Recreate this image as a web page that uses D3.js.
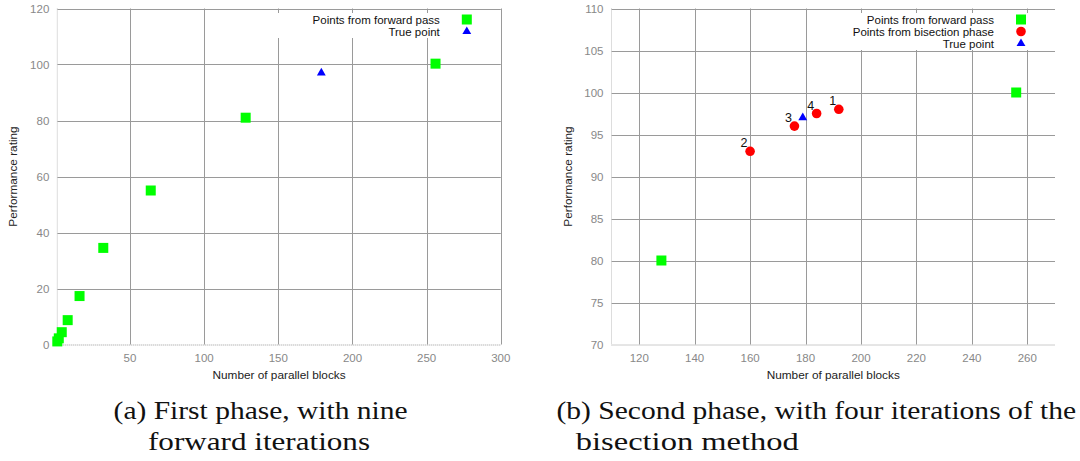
<!DOCTYPE html>
<html>
<head>
<meta charset="utf-8">
<script src="https://cdn.jsdelivr.net/npm/d3@7"></script>
<style>
  body { margin: 0; background: #fff; }
  svg { display: block; }
  .sans { font-family: "Liberation Sans", Arial, sans-serif; }
  .serif { font-family: "Liberation Serif", "DejaVu Serif", serif; }
</style>
</head>
<body>
<svg id="chart" width="1080" height="461"></svg>
<script>
// (a) first phase: forward pass
var fwdBlocks = [1, 2, 4, 8, 16, 32, 64, 128, 256];
var fwdRating = [1.1, 2.2, 4.4, 8.7, 17.3, 34.5, 55, 81, 100.3];
var trueBlocks = [179];
var trueRating = [97];

// (b) second phase: bisection
var zoomFwdBlocks = [128, 256];
var zoomFwdRating = [80, 100];
var bisectBlocks = [192, 160, 176, 184];
var bisectRating = [98, 93, 96, 97.5];
var bisectLabels = ['1', '2', '3', '4'];

var xTicksA = [50, 100, 150, 200, 250, 300];
var yTicksA = [0, 20, 40, 60, 80, 100, 120];
var xTicksB = [120, 140, 160, 180, 200, 220, 240, 260];
var yTicksB = [70, 75, 80, 85, 90, 95, 100, 105, 110];

var legendFwd = 'Points from forward pass';
var legendBisect = 'Points from bisection phase';
var legendTrue = 'True point';
var xTitle = 'Number of parallel blocks';
var yTitle = 'Performance rating';
var captionA = ['(a) First phase, with nine', 'forward iterations'];
var captionB = ['(b) Second phase, with four iterations of the', 'bisection method'];

var svg = d3.select('#chart');

var green = '#00ff00', red = '#ff0000', blue = '#0000ff';
var gridColor = '#9a9a9a';

function zip(xs, ys) {
  return xs.map(function(x, i) { return {x: x, y: ys[i], i: i}; });
}

function drawPanel(opt) {
  var x = d3.scaleLinear().domain(opt.xDomain).range(opt.xRange);
  var y = d3.scaleLinear().domain(opt.yDomain).range([344.5, 8.5]);
  var g = svg.append('g').attr('class', 'sans');
  var left = opt.xRange[0], right = opt.xRange[1];
  var top = y.range()[1], bottom = y.range()[0];

  // grid
  g.selectAll('.vgrid').data(opt.xTicks).enter().append('line')
    .attr('x1', function(d) { return Math.round(x(d)) + 0.5; })
    .attr('x2', function(d) { return Math.round(x(d)) + 0.5; })
    .attr('y1', top).attr('y2', bottom)
    .attr('stroke', gridColor).attr('stroke-width', 1);
  g.selectAll('.hgrid').data(opt.yTicks.slice(1)).enter().append('line')
    .attr('x1', left).attr('x2', right)
    .attr('y1', function(d) { return Math.round(y(d)) + 0.5; })
    .attr('y2', function(d) { return Math.round(y(d)) + 0.5; })
    .attr('stroke', gridColor).attr('stroke-width', 1);

  // dotted left / bottom border
  g.append('line').attr('x1', left).attr('x2', left).attr('y1', top).attr('y2', bottom)
    .attr('stroke', '#bbb').attr('stroke-dasharray', '1,1');
  g.append('line').attr('x1', left).attr('x2', right).attr('y1', bottom + 0.5).attr('y2', bottom + 0.5)
    .attr('stroke', '#999').attr('stroke-dasharray', '1,1');

  // tick labels
  g.selectAll('.xl').data(opt.xTicks).enter().append('text')
    .attr('x', function(d) { return x(d); })
    .attr('y', 361.5)
    .attr('text-anchor', 'middle')
    .attr('font-size', 11.5).attr('fill', '#888')
    .text(function(d) { return d; });
  g.selectAll('.yl').data(opt.yTicks).enter().append('text')
    .attr('x', left - 8)
    .attr('y', function(d) { return y(d) + 4; })
    .attr('text-anchor', 'end')
    .attr('font-size', 11.5).attr('fill', '#888')
    .text(function(d) { return d; });

  // axis titles
  g.append('text')
    .attr('x', (left + right) / 2).attr('y', 378.5)
    .attr('text-anchor', 'middle').attr('font-size', 11.8).attr('fill', '#222')
    .text(xTitle);
  g.append('text')
    .attr('transform', 'translate(' + (opt.yTitleX) + ',' + ((top + bottom) / 2) + ') rotate(-90)')
    .attr('text-anchor', 'middle').attr('font-size', 11.8).attr('fill', '#222')
    .text(yTitle);

  // legend box
  var entries = opt.legend;
  g.append('rect')
    .attr('x', opt.keyLeft).attr('y', 13)
    .attr('width', right - 1 - opt.keyLeft).attr('height', entries.length * 12 + 1)
    .attr('fill', '#fff');
  entries.forEach(function(e, i) {
    var ly = 19.5 + i * 12;
    g.append('text')
      .attr('x', right - 61).attr('y', ly + 4)
      .attr('text-anchor', 'end').attr('font-size', 11.5).attr('fill', '#111')
      .text(e.label);
    drawMark(g, e.type, right - 34, ly);
  });

  // data
  opt.series.forEach(function(s) {
    zip(s.xs, s.ys).forEach(function(p) {
      drawMark(g, s.type, x(p.x), y(p.y));
    });
  });

  if (opt.labels) {
    zip(bisectBlocks, bisectRating).forEach(function(p) {
      g.append('text')
        .attr('x', x(p.x) - 6).attr('y', y(p.y) - 4)
        .attr('text-anchor', 'middle').attr('font-size', 12.5).attr('fill', '#111')
        .text(opt.labels[p.i]);
    });
  }

  // caption
  opt.caption.forEach(function(line, i) {
    g.append('text')
      .attr('class', 'serif')
      .attr('x', opt.captionX[i]).attr('y', 419 + i * 31)
      .attr('font-size', 25).attr('fill', '#111')
      .attr('textLength', opt.captionW[i]).attr('lengthAdjust', 'spacingAndGlyphs')
      .text(line);
  });
}

function drawMark(g, type, cx, cy) {
  if (type === 'square') {
    g.append('rect').attr('x', cx - 5).attr('y', cy - 5).attr('width', 10).attr('height', 10).attr('fill', green);
  } else if (type === 'circle') {
    g.append('circle').attr('cx', cx).attr('cy', cy).attr('r', 4.8).attr('fill', red);
  } else {
    g.append('path')
      .attr('transform', 'translate(' + cx + ',' + cy + ')')
      .attr('d', d3.symbol().type(d3.symbolTriangle).size(34)())
      .attr('fill', blue);
  }
}

drawPanel({
  xDomain: [1, 300], xRange: [57.3, 500.8],
  yDomain: [0, 120],
  xTicks: xTicksA, yTicks: yTicksA,
  yTitleX: 17,
  keyLeft: 270,
  legend: [{label: legendFwd, type: 'square'}, {label: legendTrue, type: 'triangle'}],
  series: [
    {xs: fwdBlocks, ys: fwdRating, type: 'square'},
    {xs: trueBlocks, ys: trueRating, type: 'triangle'}
  ],
  caption: captionA, captionX: [113.6, 148], captionW: [294, 222]
});

drawPanel({
  xDomain: [110, 270], xRange: [611.5, 1055],
  yDomain: [70, 110],
  xTicks: xTicksB, yTicks: yTicksB,
  yTitleX: 572,
  keyLeft: 815,
  legend: [{label: legendFwd, type: 'square'}, {label: legendBisect, type: 'circle'}, {label: legendTrue, type: 'triangle'}],
  series: [
    {xs: zoomFwdBlocks, ys: zoomFwdRating, type: 'square'},
    {xs: bisectBlocks, ys: bisectRating, type: 'circle'},
    {xs: trueBlocks, ys: trueRating, type: 'triangle'}
  ],
  labels: bisectLabels,
  caption: captionB, captionX: [556.5, 575.8], captionW: [519.5, 223]
});
</script>
</body>
</html>
